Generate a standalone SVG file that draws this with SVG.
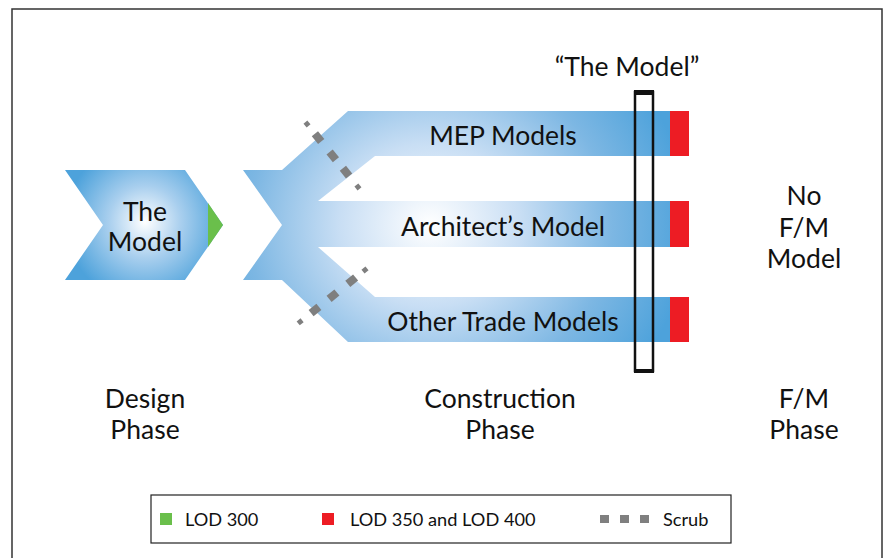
<svg xmlns="http://www.w3.org/2000/svg" width="883" height="558" viewBox="0 0 883 558">
<defs>
<style>
.t{font-family:Lato,"Open Sans",sans-serif;fill:#111;text-anchor:middle}
.big{font-size:26.5px}
.lg{font-family:Lato,"Open Sans",sans-serif;fill:#111;font-size:18.2px}
.sb{stroke:#7f7f7f;stroke-width:8;fill:none}
.ss{stroke:#7f7f7f;stroke-width:5;fill:none}
.red{fill:#ed1c24}
</style>
<radialGradient id="g1" gradientUnits="userSpaceOnUse" cx="145" cy="222" r="80">
<stop offset="0" stop-color="#ffffff"/>
<stop offset="0.45" stop-color="#a9cfee"/>
<stop offset="1" stop-color="#4da2db"/>
</radialGradient>
<radialGradient id="g2" gradientUnits="userSpaceOnUse" cx="430" cy="225" r="260" gradientTransform="translate(430 225) scale(1 0.9) translate(-430 -225)">
<stop offset="0" stop-color="#ffffff"/>
<stop offset="0.35" stop-color="#c8def4"/>
<stop offset="0.7" stop-color="#7db7e3"/>
<stop offset="1" stop-color="#4da2db"/>
</radialGradient>
</defs>
<rect x="12" y="9" width="870" height="560" fill="#fff" stroke="#333" stroke-width="1.5"/>

<g id="design-model">
<polygon points="65,170 185,170 223,225 185,280 65,280 103,225" fill="url(#g1)"/>
<polygon points="208,203 223,225 208,247" fill="#6abf4b"/>
<text class="t big" x="145" y="221">The</text>
<text class="t big" x="145" y="251">Model</text>
</g>

<g id="construction-models">
<path d="M243,170 L282,170 L348,111 L670,111 L670,156 L375,156 L318,201 L670,201 L670,247 L318,247 L375,297 L670,297 L670,342 L348,342 L282,280 L243,280 L282,225 Z" fill="url(#g2)"/>
<rect class="red" x="670" y="111" width="19" height="45"/>
<rect class="red" x="670" y="201" width="19" height="46"/>
<rect class="red" x="670" y="297" width="19" height="45"/>
<text class="t big" x="503" y="145">MEP Models</text>
<text class="t big" x="503" y="236">Architect’s Model</text>
<text class="t big" x="503" y="331">Other Trade Models</text>
</g>

<g id="connectors">
<line class="ss" x1="305.4" y1="122.1" x2="308.6" y2="125.9"/>
<line class="sb" x1="314.9" y1="133.7" x2="321.2" y2="141.5"/>
<line class="sb" x1="329.6" y1="152" x2="335.9" y2="159.7"/>
<line class="sb" x1="342.9" y1="168.3" x2="349.1" y2="176.1"/>
<line class="ss" x1="356.4" y1="185" x2="359.5" y2="188.9"/>
<line class="ss" x1="367" y1="268.4" x2="363" y2="271.6"/>
<line class="sb" x1="355.6" y1="277.5" x2="347.8" y2="283.8"/>
<line class="sb" x1="336.9" y1="292.5" x2="329.1" y2="298.8"/>
<line class="sb" x1="318.9" y1="306.9" x2="311.1" y2="313.1"/>
<line class="ss" x1="302.1" y1="320.3" x2="298.2" y2="323.4"/>
</g>

<g id="the-model-marker">
<rect x="635" y="92" width="18" height="279" fill="none" stroke="#111" stroke-width="2.5"/>
<rect x="634" y="90" width="20" height="5" fill="#111"/>
<rect x="634" y="369" width="20" height="4" fill="#111"/>
<text class="t big" x="627" y="76">“The Model”</text>
</g>

<g id="fm-model">
<text class="t big" x="804" y="205">No</text>
<text class="t big" x="804" y="237">F/M</text>
<text class="t big" x="804" y="268">Model</text>
</g>

<g id="phases">
<text class="t big" x="145" y="408">Design</text>
<text class="t big" x="145" y="439">Phase</text>
<text class="t big" x="500" y="408">Construction</text>
<text class="t big" x="500" y="439">Phase</text>
<text class="t big" x="804" y="408">F/M</text>
<text class="t big" x="804" y="439">Phase</text>
</g>

<g id="legend">
<rect x="151" y="495" width="580" height="48" fill="#fff" stroke="#222" stroke-width="1.2"/>
<rect x="160" y="513" width="12" height="12" fill="#6abf4b"/>
<text class="lg" x="185" y="526">LOD 300</text>
<rect class="red" x="322" y="513" width="12" height="12"/>
<text class="lg" x="350" y="526">LOD 350 and LOD 400</text>
<rect x="600" y="515" width="9" height="8" fill="#7f7f7f"/>
<rect x="620" y="515" width="9" height="8" fill="#7f7f7f"/>
<rect x="640" y="515" width="9" height="8" fill="#7f7f7f"/>
<text class="lg" x="663" y="526">Scrub</text>
</g>
</svg>
